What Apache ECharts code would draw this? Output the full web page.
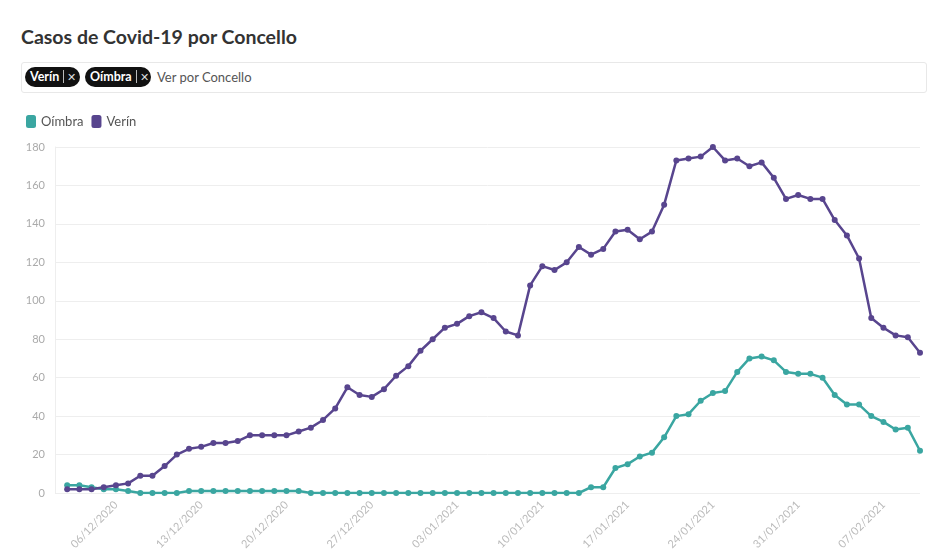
<!DOCTYPE html>
<html>
<head>
<meta charset="utf-8">
<script src="https://cdn.jsdelivr.net/npm/echarts@6/dist/echarts.min.js"></script>
<style>
  body { margin: 0; background: #fff; font-family: Lato, "Open Sans", sans-serif; }
  #title { position: absolute; left: 21px; top: 25px; font-size: 19.5px; font-weight: bold; color: #333; }
  #filtro { position: absolute; left: 21px; top: 62px; width: 904px; height: 29px; border: 1px solid #e8e8e8; border-radius: 3px; }
  .tag { position: absolute; top: 4px; height: 20px; line-height: 20px; background: #111; color: #fff; border-radius: 10px; font-size: 12.5px; font-weight: bold; box-sizing: border-box; padding-left: 5px; white-space: nowrap; }
  .tag .sep { display: inline-block; width: 1px; height: 13px; background: #bbb; margin: 0 3px 0 4px; vertical-align: -2px; }
  .tag .x { font-weight: normal; color: #ddd; font-size: 11px; }
  #ph { position: absolute; left: 135px; top: 4px; line-height: 20px; font-size: 13px; color: #555; }
  #main { position: absolute; left: 0; top: 100px; width: 938px; height: 458px; }
</style>
</head>
<body>
<div id="title">Casos de Covid-19 por Concello</div>
<div id="filtro">
  <span class="tag" style="left:3px;width:55px">Verín<span class="sep"></span><span class="x">✕</span></span>
  <span class="tag" style="left:63px;width:66px">Oímbra<span class="sep"></span><span class="x">✕</span></span>
  <span id="ph">Ver por Concello</span>
</div>
<div id="main"></div>
<script>
// Datos
var startDate = [2020, 11, 1]; // día 0 = 01/12/2020
var verin = [2, 2, 2, 3, 4, 5, 9, 9, 14, 20, 23, 24, 26, 26, 27, 30, 30, 30, 30, 32,
  34, 38, 44, 55, 51, 50, 54, 61, 66, 74, 80, 86, 88, 92, 94, 91, 84, 82, 108, 118,
  116, 120, 128, 124, 127, 136, 137, 132, 136, 150, 173, 174, 175, 180, 173, 174, 170, 172, 164, 153,
  155, 153, 153, 142, 134, 122, 91, 86, 82, 81, 73];
var oimbra = [4, 4, 3, 2, 2, 1, 0, 0, 0, 0, 1, 1, 1, 1, 1, 1, 1, 1, 1, 1,
  0, 0, 0, 0, 0, 0, 0, 0, 0, 0, 0, 0, 0, 0, 0, 0, 0, 0, 0, 0,
  0, 0, 0, 3, 3, 13, 15, 19, 21, 29, 40, 41, 48, 52, 53, 63, 70, 71, 69, 63,
  62, 62, 60, 51, 46, 46, 40, 37, 33, 34, 22];
// etiquetas do eixo X (días desde 01/12/2020)
var tickDays = [5, 12, 19, 26, 33, 40, 47, 54, 61, 68];

function pad(n) { return n < 10 ? '0' + n : '' + n; }
function fechaTexto(dia) {
  var d = new Date(startDate[0], startDate[1], startDate[2] + dia);
  return pad(d.getDate()) + '/' + pad(d.getMonth() + 1) + '/' + d.getFullYear();
}

var myChart = echarts.init(document.getElementById('main'));
var option = {
  animation: false,
  textStyle: { fontFamily: 'Lato, "Open Sans", sans-serif' },
  legend: {
    left: 21,
    top: 10,
    icon: 'roundRect',
    itemWidth: 10,
    itemHeight: 13,
    itemGap: 8,
    textStyle: { color: '#555', fontSize: 13 },
    data: ['Oímbra', 'Verín']
  },
  grid: { left: 55, right: 18, top: 47, bottom: 65 },
  xAxis: {
    type: 'value',
    min: 0,
    max: verin.length,
    axisLine: { show: false },
    axisTick: { show: false },
    splitLine: { show: false },
    axisLabel: {
      customValues: tickDays,
      rotate: 45,
      color: '#bbb',
      fontSize: 11,
      margin: 10,
      formatter: fechaTexto
    }
  },
  yAxis: {
    type: 'value',
    min: 0,
    max: 180,
    interval: 20,
    axisLine: { show: true, lineStyle: { color: '#eee' } },
    axisTick: { show: false },
    splitLine: { lineStyle: { color: '#eee' } },
    axisLabel: { color: '#aaa', fontSize: 11, margin: 10 }
  },
  series: [
    {
      name: 'Oímbra',
      type: 'line',
      data: oimbra.map(function (v, i) { return [i + 1, v]; }),
      symbol: 'circle',
      symbolSize: 6,
      lineStyle: { width: 2.5 },
      itemStyle: { color: '#3aa6a1' }
    },
    {
      name: 'Verín',
      type: 'line',
      data: verin.map(function (v, i) { return [i + 1, v]; }),
      symbol: 'circle',
      symbolSize: 6,
      lineStyle: { width: 2.5 },
      itemStyle: { color: '#58458e' }
    }
  ]
};
myChart.setOption(option);
</script>
</body>
</html>
